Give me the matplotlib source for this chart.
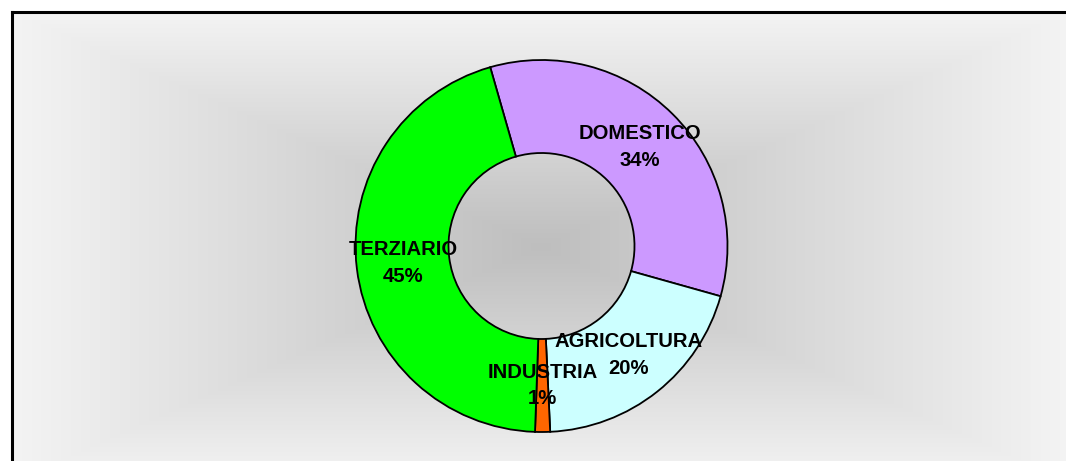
import numpy as np
import matplotlib
matplotlib.use("Agg")
import matplotlib.pyplot as plt

categories = ["DOMESTICO", "AGRICOLTURA", "INDUSTRIA", "TERZIARIO"]
values = [33.8, 19.9, 1.3, 45.0]
colors = ["#CC99FF", "#CCFFFF", "#FF6600", "#00FF00"]

W, H = 1066, 461
fig = plt.figure(figsize=(W / 100, H / 100), dpi=100)
fig.patch.set_facecolor("white")
ax = fig.add_axes([0, 0, 1, 1])
ax.axis("off")

# background gradient (rectangular, darker at centre); box extends past image
bx0, bx1 = 12, 1070
bytop, bybot = 12, 482
cx, cy = (bx0 + bx1) / 2, (bytop + bybot) / 2
hw, hh = (bx1 - bx0) / 2, (bybot - bytop) / 2
xs = np.arange(12, W) + 0.5
ys = np.arange(12, H) + 0.5
X, Y = np.meshgrid(xs, ys)
t = np.maximum(np.abs(X - cx) / hw, np.abs(Y - cy) / hh)
g = np.clip((190 + 54 * t) / 255.0, 0, 1)
img = np.dstack([g, g, g])
ax.imshow(img, extent=(12, W, 0, H - 12), origin="upper",
          interpolation="nearest", zorder=0, aspect="auto")

R = 186
center = (541.5, H - 246)
wedges, _ = ax.pie(values, colors=colors, startangle=106, counterclock=False,
                   radius=R, center=center, frame=True,
                   wedgeprops=dict(width=R * 0.5, edgecolor="black", linewidth=1.3))

total = sum(values)
for w, cat, v in zip(wedges, categories, values):
    ang = np.deg2rad((w.theta1 + w.theta2) / 2)
    r = R * 0.75
    tx = center[0] + r * np.cos(ang)
    ty = center[1] + r * np.sin(ang)
    ax.text(tx, ty, f"{cat}\n{round(v / total * 100):.0f}%", ha="center", va="center",
            fontsize=14.6, fontweight="bold", family=["Liberation Sans", "DejaVu Sans"],
            linespacing=1.5, zorder=5)

# plot-area border: only top and left edges fall inside the image
ax.plot([11.5, W + 20], [H - 12, H - 12], color="black", linewidth=2.2,
        solid_capstyle="projecting", zorder=6)
ax.plot([11.5, 11.5], [-20, H - 12], color="black", linewidth=2.2,
        solid_capstyle="projecting", zorder=6)

ax.set_aspect("auto")
ax.set_xlim(0, W)
ax.set_ylim(0, H)
ax.axis("off")

fig.savefig("out.png", dpi=100)
